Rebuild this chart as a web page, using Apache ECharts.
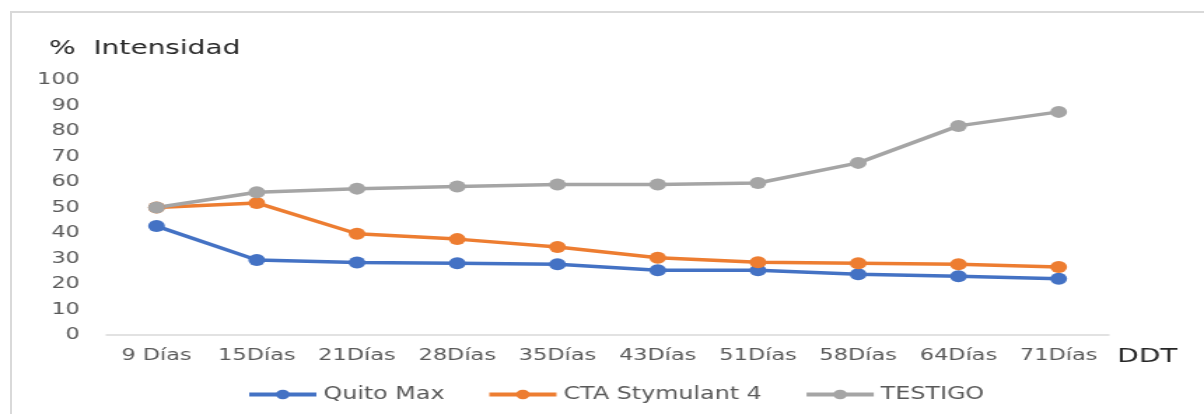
<!DOCTYPE html>
<html>
<head>
<meta charset="utf-8">
<script src="https://cdn.jsdelivr.net/npm/echarts@6/dist/echarts.min.js"></script>
<style>
  html, body { margin: 0; padding: 0; background: #fff; overflow: hidden; }
  #frame {
    position: absolute; left: 10px; top: 11px; width: 1300px; height: 500px;
    border-top: 2px solid #d9d9d9; border-left: 2px solid #d9d9d9;
  }
  /* the reference is stretched sideways, so the chart is too */
  #chart {
    position: absolute; left: 0; top: 0; width: 860px; height: 414px;
    transform: scaleX(1.4); transform-origin: 0 0;
  }
</style>
</head>
<body>
<div id="frame"></div>
<div id="chart"></div>
<script>
const categories = ['9 Días', '15Días', '21Días', '28Días', '35Días', '43Días', '51Días', '58Días', '64Días', '71Días'];
const quitoMax = [42.7, 29.4, 28.4, 28.1, 27.7, 25.4, 25.4, 23.8, 23.0, 22.1];
const ctaStymulant = [50.0, 51.8, 39.7, 37.6, 34.5, 30.3, 28.5, 28.1, 27.7, 26.7];
const testigo = [50.0, 56.0, 57.4, 58.2, 59.0, 59.0, 59.6, 67.5, 82.0, 87.5];
const yTicks = [0, 10, 20, 30, 40, 50, 60, 70, 80, 90, 100];

const myChart = echarts.init(document.getElementById('chart'));
const font = 'DejaVu Sans';

const makeLine = (name, data, color) => ({
  name: name,
  type: 'line',
  data: data,
  symbol: 'circle',
  symbolSize: 12,
  lineStyle: { color: color, width: 3.5 },
  itemStyle: { color: color, borderColor: color, borderWidth: 0 },
  emphasis: { disabled: true }
});

const option = {
  backgroundColor: 'transparent',
  animation: false,
  textStyle: { fontFamily: font },
  graphic: [
    {
      type: 'text', left: 35, top: 39,
      style: { text: '%  Intensidad', fontSize: 20, fontFamily: font, fill: '#262626' }
    },
    {
      type: 'text', left: 798, top: 347,
      style: { text: 'DDT', fontSize: 20, fontFamily: font, fill: '#262626' }
    }
  ],
  legend: {
    left: 171,
    top: 381,
    itemWidth: 48,
    itemHeight: 12,
    itemGap: 30,
    lineStyle: { width: 4 },
    itemStyle: { borderWidth: 0 },
    textStyle: { color: '#595959', fontSize: 17, fontFamily: font },
    data: ['Quito Max', 'CTA Stymulant 4', 'TESTIGO']
  },
  grid: { left: 76, right: 68, top: 80, bottom: 79, containLabel: false },
  xAxis: {
    type: 'category',
    data: categories,
    boundaryGap: true,
    axisLine: { show: true, lineStyle: { color: '#d9d9d9', width: 1.5 } },
    axisTick: { show: false },
    axisLabel: { color: '#595959', fontSize: 16, margin: 13, interval: 0 },
    splitLine: { show: false }
  },
  yAxis: {
    type: 'value',
    min: yTicks[0],
    max: yTicks[yTicks.length - 1],
    interval: 10,
    axisLine: { show: false },
    axisTick: { show: false },
    splitLine: { show: false },
    axisLabel: { color: '#595959', fontSize: 16, margin: 19 }
  },
  series: [
    makeLine('Quito Max', quitoMax, '#4472C4'),
    makeLine('CTA Stymulant 4', ctaStymulant, '#ED7D31'),
    makeLine('TESTIGO', testigo, '#A5A5A5')
  ]
};

myChart.setOption(option);
</script>
</body>
</html>
